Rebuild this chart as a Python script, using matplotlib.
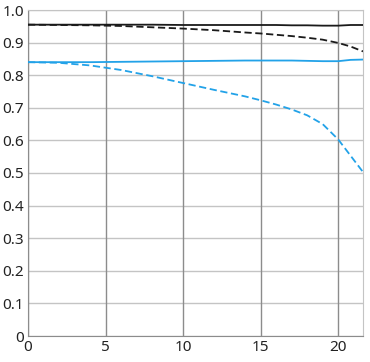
import matplotlib

matplotlib.use("Agg")
import matplotlib.pyplot as plt  # noqa: E402

plt.rcParams["font.family"] = ["Noto Sans", "DejaVu Sans"]

# MTF curves (image height in mm vs contrast)
x_pts = [0, 2, 4, 6, 8, 10, 12, 14, 15, 16, 17, 18, 19, 20, 20.8, 21.6]
black_solid = [0.955, 0.955, 0.955, 0.955, 0.955, 0.954, 0.954, 0.954, 0.954, 0.954, 0.953, 0.953, 0.952, 0.952, 0.954, 0.954]
black_dashed = [0.955, 0.954, 0.953, 0.951, 0.947, 0.943, 0.938, 0.931, 0.928, 0.924, 0.920, 0.915, 0.909, 0.899, 0.888, 0.873]
blue_solid = [0.840, 0.840, 0.840, 0.841, 0.842, 0.843, 0.844, 0.845, 0.845, 0.845, 0.845, 0.844, 0.843, 0.843, 0.847, 0.848]
blue_dashed = [0.840, 0.838, 0.830, 0.816, 0.797, 0.776, 0.755, 0.735, 0.723, 0.710, 0.695, 0.677, 0.650, 0.603, 0.553, 0.503]

x_ticks = [0, 5, 10, 15, 20]
y_ticks = [0, 0.1, 0.2, 0.3, 0.4, 0.5, 0.6, 0.7, 0.8, 0.9, 1.0]
y_labels = ["0", "0.1", "0.2", "0.3", "0.4", "0.5", "0.6", "0.7", "0.8", "0.9", "1.0"]

BLUE = "#22a2e8"
BLACK = "#1a1a1a"

fig = plt.figure(figsize=(3.70, 3.62), dpi=100)
ax = fig.add_axes([28 / 370, 26 / 362, 335 / 370, 326 / 362])

for yv in y_ticks:
    ax.axhline(yv, color="#c4c4c4", linewidth=1.0, zorder=1)
for xv in x_ticks:
    ax.axvline(xv, color="#8c8c8c", linewidth=1.0, zorder=1)

ax.plot(x_pts, black_solid, color=BLACK, linewidth=1.3, zorder=3)
ax.plot(x_pts, black_dashed, color=BLACK, linewidth=1.3, dashes=(4, 2), zorder=3)
ax.plot(x_pts, blue_solid, color=BLUE, linewidth=1.3, zorder=3)
ax.plot(x_pts, blue_dashed, color=BLUE, linewidth=1.3, dashes=(4, 2), zorder=3)

ax.set_xlim(0, 21.6)
ax.set_ylim(0, 1.0)
ax.set_xticks(x_ticks)
ax.set_yticks(y_ticks)
ax.set_yticklabels(y_labels)
ax.tick_params(length=0, labelsize=11, colors="#222222", pad=3)
for side in ["left", "bottom"]:
    ax.spines[side].set_color("#8c8c8c")
for side in ["top", "right"]:
    ax.spines[side].set_color("#c4c4c4")

fig.savefig("out.png", dpi=100)
